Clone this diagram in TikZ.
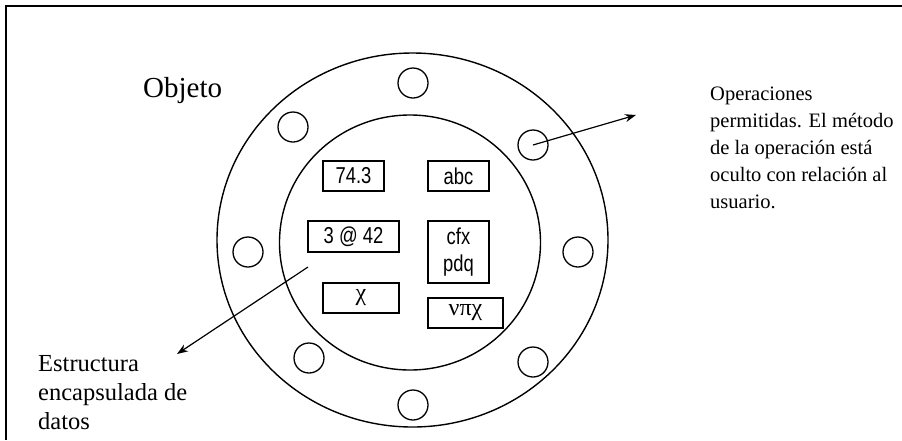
\documentclass[tikz,border=0pt]{standalone}
\usepackage{fontspec}
\setmainfont{Liberation Serif}
\newfontfamily\boxfont[FakeStretch=0.8]{Liberation Sans}
\newfontfamily\greekfont{Liberation Serif}
\usetikzlibrary{arrows.meta}
\begin{document}
\begin{tikzpicture}[x=1pt,y=-1pt,
  ring/.style={draw,line width=1.4pt},
  port/.style={draw,circle,line width=1.3pt,minimum size=30pt,inner sep=0pt},
  databox/.style={draw,line width=1.3pt,inner sep=0pt,font=\boxfont\fontsize{23}{27}\selectfont,align=center},
  greekbox/.style={databox,font=\greekfont\fontsize{24}{27}\selectfont},
  label/.style={inner sep=0pt,align=left},
  pointer/.style={line width=1.2pt,-{Stealth[length=11pt,width=8pt]}}]
\useasboundingbox (0,0) rectangle (902,440);
% frame (top and left only visible)
\draw[line width=1.8pt] (902,6) -- (6,6) -- (6,440);
% rings
\draw[ring] (412.5,240) ellipse [x radius=195.5, y radius=187];
\draw[ring] (410,242.5) ellipse [x radius=130.5, y radius=127.5];
% ports
\node[port] (pt) at (413,83) {};
\node[port] (pul) at (293,127) {};
\node[port] (pur) at (533,145) {};
\node[port] (pl) at (248,252) {};
\node[port] (pr) at (578,252) {};
\node[port] (pll) at (309,358) {};
\node[port] (plr) at (533,362) {};
\node[port] (pb) at (413,405) {};
% data boxes
\node[databox,minimum width=61pt,minimum height=30pt] (b1) at (353.5,176) {74.3};
\node[databox,minimum width=61pt,minimum height=30pt] (b2) at (458.5,176) {abc};
\node[databox,minimum width=91pt,minimum height=31pt] (b3) at (353.5,236.5) {3 @ 42};
\node[databox,minimum width=61pt,minimum height=62pt] (b4) at (458.5,252) {cfx\\pdq};
\node[greekbox,minimum width=76pt,minimum height=30pt] (b5) at (361,298) {χ};
\node[greekbox,minimum width=75pt,minimum height=30pt] (b6) at (465.5,313) {νπχ};
% labels
\node[label,anchor=base west,font=\fontsize{29}{32}\selectfont] (obj) at (143,97) {Objeto};
\node[label,anchor=base west,font=\fontsize{20.5}{27}\selectfont] (ops) at (710,208) {Operaciones\\permitidas. El método\\de la operación está\\oculto con relación al\\usuario.};
\node[label,anchor=base west,font=\fontsize{24.5}{29}\selectfont] (est) at (38,429) {Estructura\\encapsulada de\\datos};
% connectors
\coordinate (opsend) at (636,115);
\coordinate (datastart) at (308,267);
\coordinate (estend) at (177,354);
\draw[pointer] (pur.center) -- (opsend);
\draw[pointer] (datastart) -- (estend);
\end{tikzpicture}
\end{document}
